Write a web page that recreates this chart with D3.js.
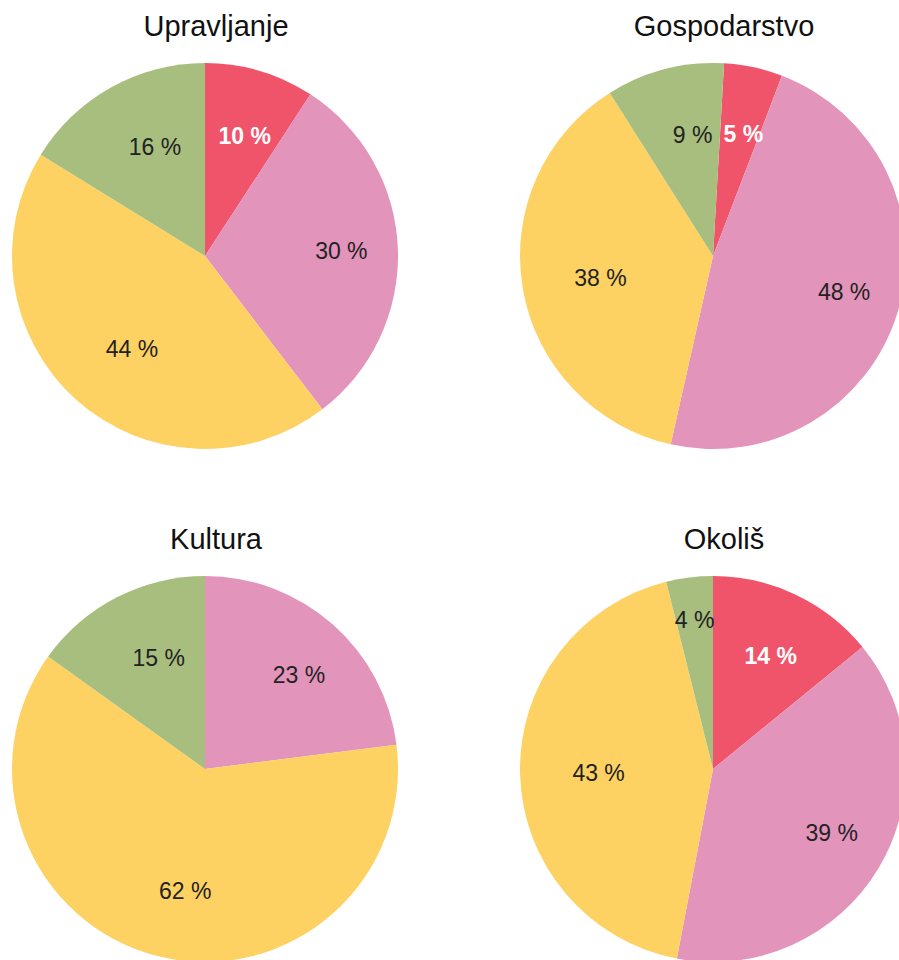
<!DOCTYPE html>
<html><head><meta charset="utf-8">
<script src="https://cdn.jsdelivr.net/npm/d3@7"></script>
<style>body{margin:0;background:#fff;overflow:hidden}svg{display:block}</style>
</head><body>
<script>
// ---- data ----
const categories = ["kategorija 1", "kategorija 2", "kategorija 3", "kategorija 4"];
const titles = ["Upravljanje", "Gospodarstvo", "Kultura", "Okoliš"];
const valuesUpravljanje = [9.2, 30.4, 44.2, 16.2];
const valuesGospodarstvo = [4.9, 47.7, 37.5, 9.9];
const valuesKultura = [0, 23.0, 61.9, 15.1];
const valuesOkolis = [14.1, 38.9, 43.1, 3.9];
const labelsUpravljanje = [10, 30, 44, 16];
const labelsGospodarstvo = [5, 48, 38, 9];
const labelsKultura = [0, 23, 62, 15];
const labelsOkolis = [14, 39, 43, 4];
const startOffsetsDeg = [0, 3.3, 0, 0];
const colors = ["#F0546A", "#E294BB", "#FED262", "#A7BE7E"];

const seriesValues = [valuesUpravljanje, valuesGospodarstvo, valuesKultura, valuesOkolis];
const seriesLabels = [labelsUpravljanje, labelsGospodarstvo, labelsKultura, labelsOkolis];

// ---- layout ----
const W = 899, H = 960;
const R = 193;
const colX = [205, 713], rowY = [256, 769];

const svg = d3.select("body").append("svg").attr("width", W).attr("height", H);
const color = d3.scaleOrdinal().domain(categories).range(colors);
const arc = d3.arc().innerRadius(0).outerRadius(R);

titles.forEach((title, i) => {
  const cx = colX[i % 2], cy = rowY[Math.floor(i / 2)];
  const off = startOffsetsDeg[i] * Math.PI / 180;
  const data = categories.map((c, k) => ({cat: c, value: seriesValues[i][k], label: seriesLabels[i][k], k}));
  const pie = d3.pie().sort(null).value(d => d.value).startAngle(off).endAngle(off + 2 * Math.PI);
  const g = svg.append("g").attr("transform", `translate(${cx},${cy})`);
  const arcs = pie(data);
  g.selectAll("path").data(arcs).join("path")
    .attr("d", arc)
    .attr("fill", d => color(d.data.cat));

  arcs.filter(d => d.data.value > 0).forEach(d => {
    const red = d.data.k === 0;
    const t = g.append("text")
      .attr("text-anchor", "middle")
      .attr("font-family", "Liberation Sans, Arial, sans-serif")
      .attr("font-size", 23)
      .attr("font-weight", red ? "bold" : "normal")
      .attr("fill", red ? "#ffffff" : "#222222")
      .text(d.data.label + " %");
    const w = t.node().getComputedTextLength();
    const theta = d.endAngle - d.startAngle;
    const mid = (d.startAngle + d.endAngle) / 2;
    const base = 0.65 * R;
    const need = 0.93 * w / theta;
    const pushed = need > base;
    const rr = Math.min(Math.max(base, need), 0.85 * R);
    const shift = pushed ? 0 : (red ? 4 : 11);
    const x = Math.sin(mid) * rr + shift;
    const y = -Math.cos(mid) * rr;
    t.attr("x", x).attr("y", y + 23 * 0.355);
  });

  svg.append("text")
    .attr("x", cx + 11)
    .attr("y", cy - 220)
    .attr("text-anchor", "middle")
    .attr("font-family", "Liberation Sans, Arial, sans-serif")
    .attr("font-size", 29)
    .attr("fill", "#111")
    .text(title);
});
</script>
</body></html>
